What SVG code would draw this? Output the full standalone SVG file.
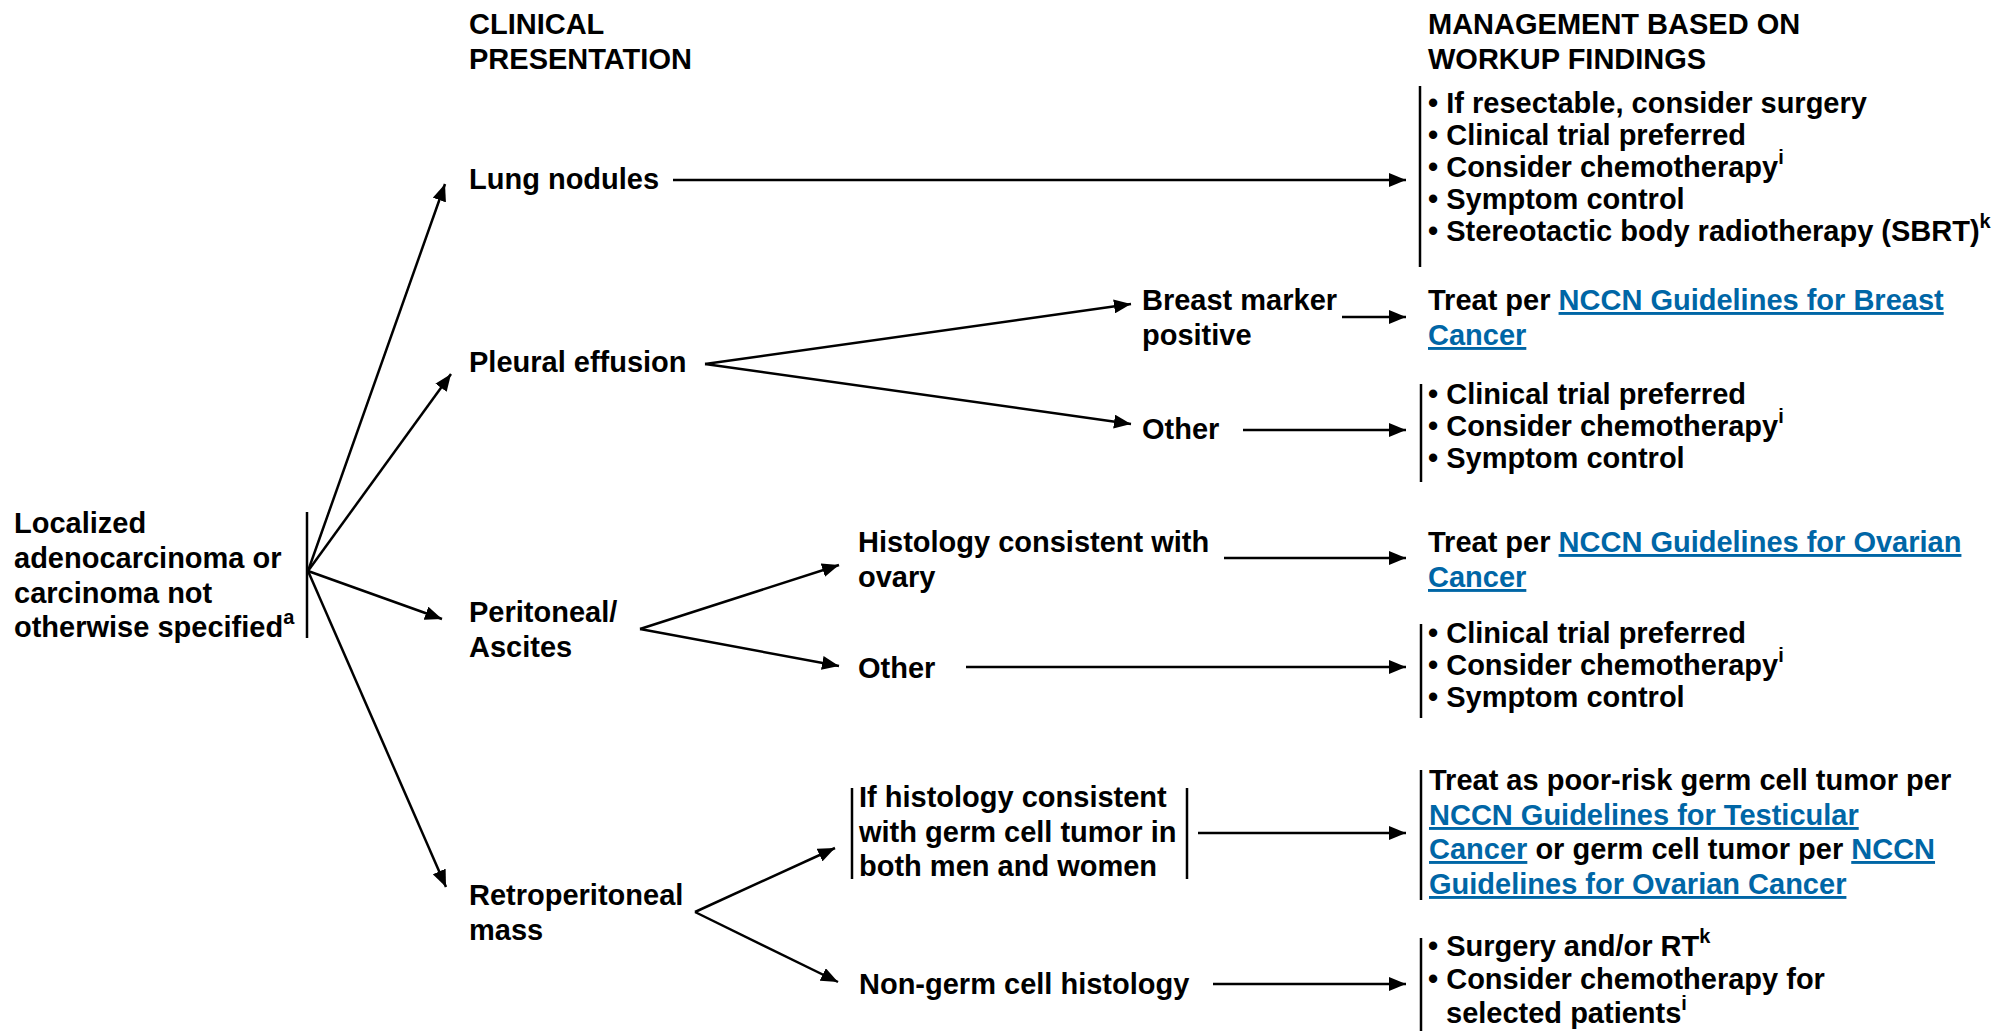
<svg xmlns="http://www.w3.org/2000/svg" width="2003" height="1031" viewBox="0 0 2003 1031">
  <defs>
    <marker id="arrow" markerUnits="userSpaceOnUse" markerWidth="18" markerHeight="14" refX="17" refY="7" orient="auto">
      <path d="M0,0 L17,7 L0,14 z" fill="#000"/>
    </marker>
    <style>
      text { font-family: "Liberation Sans", Arial, Helvetica, sans-serif; font-weight: bold; font-size: 29px; fill: #000; }
      .sup { font-size: 20px; }
      .link { fill: #0066A6; text-decoration: underline; }
      .edge { stroke: #000; stroke-width: 2.5; fill: none; marker-end: url(#arrow); }
      .bar { stroke: #000; stroke-width: 2.5; fill: none; }
    </style>
  </defs>
  <rect width="2003" height="1031" fill="#fff"/>

  <!-- column headings -->
  <g id="heading-presentation">
    <text x="469" y="34">CLINICAL</text>
    <text x="469" y="69">PRESENTATION</text>
  </g>
  <g id="heading-management">
    <text x="1428" y="34">MANAGEMENT BASED ON</text>
    <text x="1428" y="69">WORKUP FINDINGS</text>
  </g>

  <!-- starting point -->
  <g id="start">
    <text x="14" y="533">Localized</text>
    <text x="14" y="568">adenocarcinoma or</text>
    <text x="14" y="603">carcinoma not</text>
    <text x="14" y="637">otherwise specified<tspan class="sup" dy="-13">a</tspan></text>
    <line class="bar" x1="307" y1="512" x2="307" y2="638"/>
  </g>

  <!-- clinical presentations -->
  <g id="lung-nodules"><text x="469" y="189">Lung nodules</text></g>
  <g id="pleural-effusion"><text x="469" y="372">Pleural effusion</text></g>
  <g id="peritoneal">
    <text x="469" y="622">Peritoneal/</text>
    <text x="469" y="657">Ascites</text>
  </g>
  <g id="retroperitoneal">
    <text x="469" y="905">Retroperitoneal</text>
    <text x="469" y="940">mass</text>
  </g>

  <!-- workup findings -->
  <g id="breast-marker">
    <text x="1142" y="310">Breast marker</text>
    <text x="1142" y="345">positive</text>
  </g>
  <g id="pleural-other"><text x="1142" y="439">Other</text></g>
  <g id="ovary-histology">
    <text x="858" y="552">Histology consistent with</text>
    <text x="858" y="587">ovary</text>
  </g>
  <g id="peritoneal-other"><text x="858" y="678">Other</text></g>
  <g id="germ-cell-histology">
    <line class="bar" x1="852" y1="788" x2="852" y2="879"/>
    <text x="859" y="807">If histology consistent</text>
    <text x="859" y="842">with germ cell tumor in</text>
    <text x="859" y="876">both men and women</text>
    <line class="bar" x1="1187" y1="788" x2="1187" y2="879"/>
  </g>
  <g id="non-germ-cell"><text x="859" y="994">Non-germ cell histology</text></g>

  <!-- management -->
  <g id="mgmt-lung">
    <line class="bar" x1="1420" y1="86" x2="1420" y2="267"/>
    <text x="1428" y="113">• If resectable, consider surgery</text>
    <text x="1428" y="145">• Clinical trial preferred</text>
    <text x="1428" y="177">• Consider chemotherapy<tspan class="sup" dy="-13">i</tspan></text>
    <text x="1428" y="209">• Symptom control</text>
    <text x="1428" y="241">• Stereotactic body radiotherapy (SBRT)<tspan class="sup" dy="-13">k</tspan></text>
  </g>
  <g id="mgmt-breast">
    <text x="1428" y="310">Treat per <tspan class="link">NCCN Guidelines for Breast</tspan></text>
    <text x="1428" y="345"><tspan class="link">Cancer</tspan></text>
  </g>
  <g id="mgmt-pleural-other">
    <line class="bar" x1="1421" y1="384" x2="1421" y2="482"/>
    <text x="1428" y="404">• Clinical trial preferred</text>
    <text x="1428" y="436">• Consider chemotherapy<tspan class="sup" dy="-13">i</tspan></text>
    <text x="1428" y="468">• Symptom control</text>
  </g>
  <g id="mgmt-ovarian">
    <text x="1428" y="552">Treat per <tspan class="link">NCCN Guidelines for Ovarian</tspan></text>
    <text x="1428" y="587"><tspan class="link">Cancer</tspan></text>
  </g>
  <g id="mgmt-peritoneal-other">
    <line class="bar" x1="1421" y1="624" x2="1421" y2="718"/>
    <text x="1428" y="643">• Clinical trial preferred</text>
    <text x="1428" y="675">• Consider chemotherapy<tspan class="sup" dy="-13">i</tspan></text>
    <text x="1428" y="707">• Symptom control</text>
  </g>
  <g id="mgmt-germ-cell">
    <line class="bar" x1="1421" y1="770" x2="1421" y2="900"/>
    <text x="1429" y="790">Treat as poor-risk germ cell tumor per</text>
    <text x="1429" y="825"><tspan class="link">NCCN Guidelines for Testicular</tspan></text>
    <text x="1429" y="859"><tspan class="link">Cancer</tspan> or germ cell tumor per <tspan class="link">NCCN</tspan></text>
    <text x="1429" y="894"><tspan class="link">Guidelines for Ovarian Cancer</tspan></text>
  </g>
  <g id="mgmt-non-germ-cell">
    <line class="bar" x1="1421" y1="938" x2="1421" y2="1031"/>
    <text x="1428" y="956">• Surgery and/or RT<tspan class="sup" dy="-13">k</tspan></text>
    <text x="1428" y="989">• Consider chemotherapy for</text>
    <text x="1446" y="1023">selected patients<tspan class="sup" dy="-13">i</tspan></text>
  </g>

  <!-- connectors -->
  <g id="connectors">
    <line class="edge" x1="308" y1="571" x2="445" y2="184"/>
    <line class="edge" x1="308" y1="571" x2="451" y2="374"/>
    <line class="edge" x1="308" y1="571" x2="442" y2="619"/>
    <line class="edge" x1="308" y1="571" x2="446" y2="887"/>

    <line class="edge" x1="673" y1="180" x2="1406" y2="180"/>

    <line class="edge" x1="705" y1="364" x2="1131" y2="304"/>
    <line class="edge" x1="705" y1="364" x2="1131" y2="424"/>
    <line class="edge" x1="1342" y1="317" x2="1406" y2="317"/>
    <line class="edge" x1="1243" y1="430" x2="1406" y2="430"/>

    <line class="edge" x1="640" y1="629" x2="839" y2="565"/>
    <line class="edge" x1="640" y1="629" x2="839" y2="666"/>
    <line class="edge" x1="1224" y1="558" x2="1406" y2="558"/>
    <line class="edge" x1="966" y1="667" x2="1406" y2="667"/>

    <line class="edge" x1="695" y1="912" x2="835" y2="848"/>
    <line class="edge" x1="695" y1="912" x2="838" y2="982"/>
    <line class="edge" x1="1198" y1="833" x2="1406" y2="833"/>
    <line class="edge" x1="1213" y1="984" x2="1406" y2="984"/>
  </g>
</svg>
